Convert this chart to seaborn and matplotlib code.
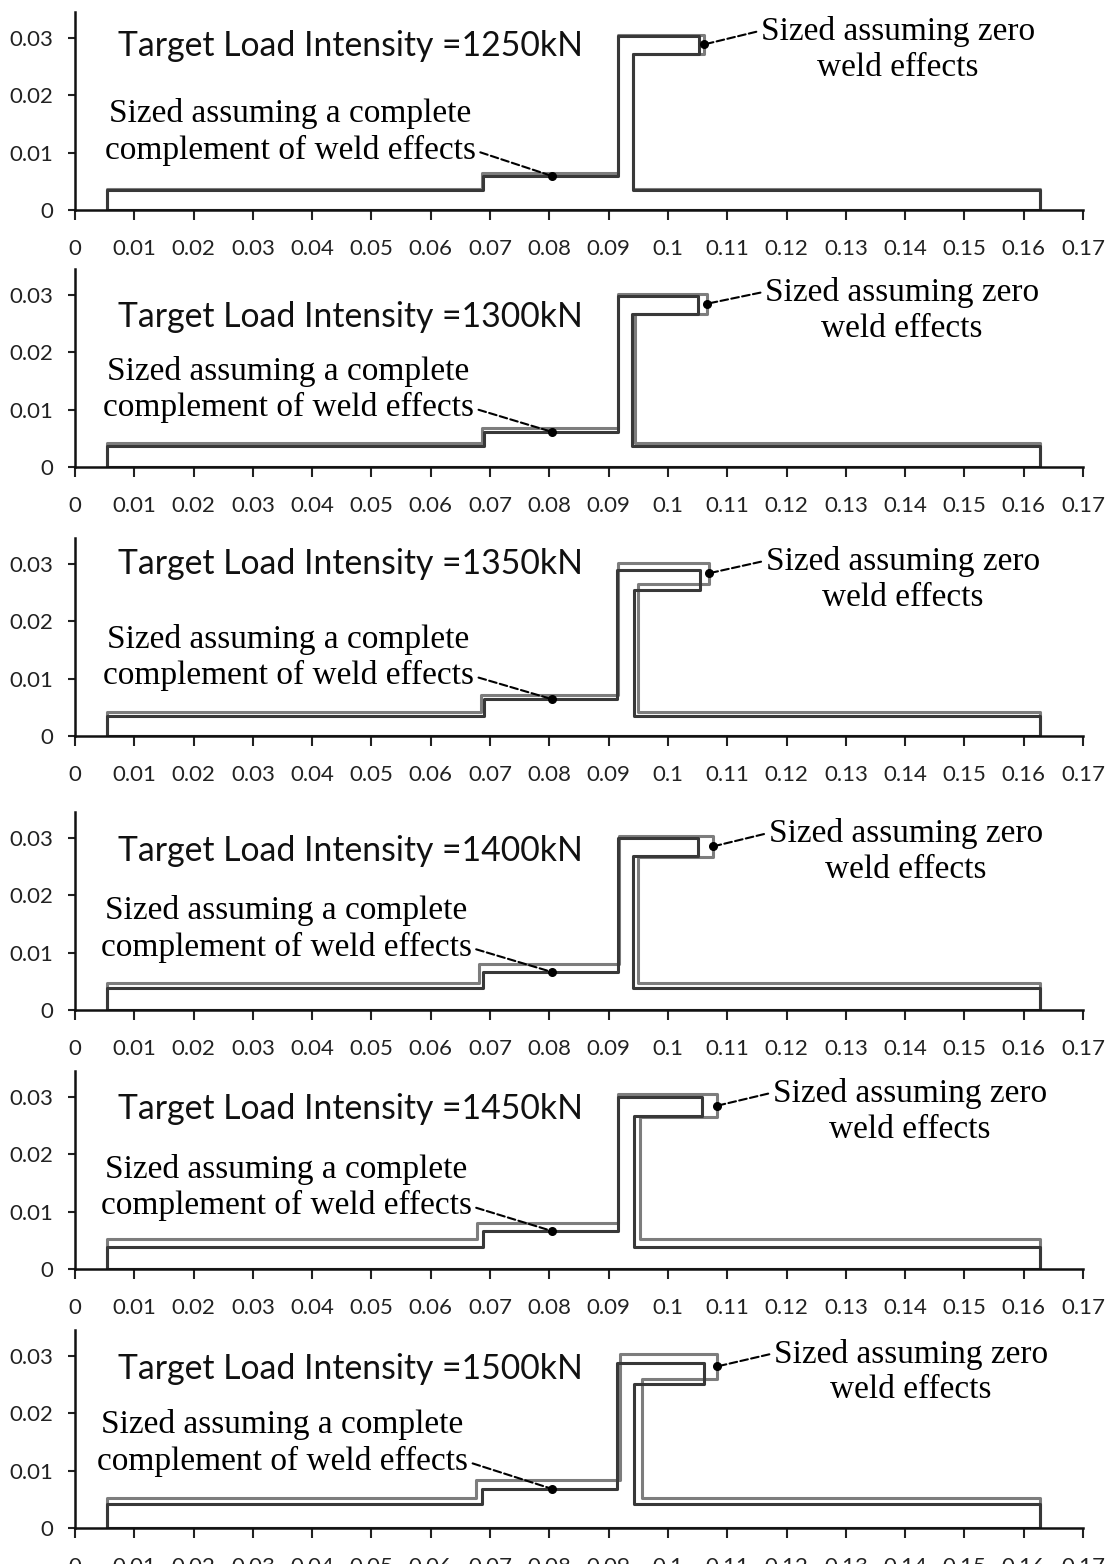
import matplotlib
matplotlib.use('Agg')
import matplotlib.pyplot as plt
from matplotlib.ticker import FuncFormatter
import numpy as np
import pandas as pd
import seaborn as sns

# panel loads (kN)
loads = [1250, 1300, 1350, 1400, 1450, 1500]

# common plate extent
x_start = 0.0054
x_end = 0.1627

# sized assuming zero weld effects (light outline)
zw_plate = [0.0037, 0.0042, 0.0042, 0.0047, 0.0052, 0.0052]
zw_step = [0.0686, 0.0686, 0.0684, 0.0681, 0.0678, 0.0676]
zw_mid = [0.0064, 0.0068, 0.0071, 0.0080, 0.0080, 0.0083]
zw_web_l = [0.0916, 0.0916, 0.0916, 0.0918, 0.0916, 0.0919]
zw_top = [0.0305, 0.0302, 0.0302, 0.0303, 0.0305, 0.0303]
zw_flange_r = [0.1061, 0.1066, 0.1069, 0.1076, 0.1083, 0.1083]
zw_flange_b = [0.0272, 0.0267, 0.0265, 0.0267, 0.0264, 0.0260]
zw_web_r = [0.0941, 0.0944, 0.0949, 0.0950, 0.0953, 0.0956]

# sized assuming a complete complement of weld effects (dark outline)
fw_plate = [0.0035, 0.0036, 0.0035, 0.0038, 0.0039, 0.0042]
fw_step = [0.0688, 0.0690, 0.0690, 0.0688, 0.0688, 0.0686]
fw_mid = [0.0059, 0.0061, 0.0064, 0.0066, 0.0066, 0.0068]
fw_web_l = [0.0916, 0.0916, 0.0914, 0.0916, 0.0916, 0.0914]
fw_top = [0.0303, 0.0298, 0.0289, 0.0300, 0.0300, 0.0288]
fw_flange_r = [0.1052, 0.1051, 0.1054, 0.1050, 0.1057, 0.1061]
fw_flange_b = [0.0272, 0.0267, 0.0255, 0.0269, 0.0267, 0.0251]
fw_web_r = [0.0941, 0.0940, 0.0943, 0.0941, 0.0943, 0.0943]

# point picked on the full weld outline
fw_dot_x = 0.0805

# text placement per panel (data units)
title_y = [0.0286, 0.0261, 0.0300, 0.0277, 0.0279, 0.0277]
right_txt_x = [0.1388, 0.1395, 0.1396, 0.1401, 0.1408, 0.1410]
right_txt_y = [0.0280, 0.0273, 0.0273, 0.0276, 0.0275, 0.0272]
left_txt_x = [0.0363, 0.0360, 0.0360, 0.0356, 0.0356, 0.0350]
left_txt_y = [0.0136, 0.0135, 0.0137, 0.0141, 0.0142, 0.0148]

x_ticks = np.arange(0, 0.1701, 0.01)
y_ticks = [0, 0.01, 0.02, 0.03]


def outline(plate, step, mid, web_l, top, flange_r, flange_b, web_r):
    xs = [x_start, x_start, step, step, web_l, web_l, flange_r, flange_r,
          web_r, web_r, x_end, x_end, x_start]
    ys = [0, plate, plate, mid, mid, top, top, flange_b, flange_b,
          plate, plate, 0, 0]
    return xs, ys


def fmt(v, pos):
    s = f'{v:.2f}'.rstrip('0').rstrip('.')
    return s


sns.set_theme(style='white')
plt.rcParams['font.family'] = ['Lato', 'DejaVu Sans']

W, H = 1113, 1564
fig = plt.figure(figsize=(W / 100, H / 100), dpi=100)

zero_px = [210, 467, 736, 1010, 1269, 1528]
ax_left, ax_right = 75, 1083
ax_h = 198
y_max = 0.0345
serif = ['Liberation Serif', 'DejaVu Serif']

for i in range(6):
    ax = fig.add_axes([ax_left / W, (H - zero_px[i]) / H,
                       (ax_right - ax_left) / W, ax_h / H])

    zx, zy = outline(zw_plate[i], zw_step[i], zw_mid[i], zw_web_l[i],
                     zw_top[i], zw_flange_r[i], zw_flange_b[i], zw_web_r[i])
    fx, fy = outline(fw_plate[i], fw_step[i], fw_mid[i], fw_web_l[i],
                     fw_top[i], fw_flange_r[i], fw_flange_b[i], fw_web_r[i])
    df = pd.DataFrame({
        'x': zx + fx,
        'y': zy + fy,
        'design': ['zero'] * len(zx) + ['full'] * len(fx),
    })
    sns.lineplot(data=df, x='x', y='y', hue='design', sort=False,
                 estimator=None, palette={'zero': '#7d7d7d', 'full': '#383838'},
                 linewidth=2.2, legend=False, ax=ax)

    ax.set_xlim(0, 0.17)
    ax.set_ylim(0, y_max)
    ax.set_xticks(x_ticks)
    ax.set_yticks(y_ticks)
    ax.xaxis.set_major_formatter(FuncFormatter(fmt))
    ax.yaxis.set_major_formatter(FuncFormatter(fmt))
    ax.set_xlabel('')
    ax.set_ylabel('')
    for side in ['top', 'right']:
        ax.spines[side].set_visible(False)
    for side in ['left', 'bottom']:
        ax.spines[side].set_color('#111111')
        ax.spines[side].set_linewidth(1.8)
    ax.tick_params(axis='x', direction='out', length=7, width=1.5,
                   pad=14, labelsize=16, colors='#222222', bottom=True)
    ax.tick_params(axis='y', direction='out', length=5, width=1.5,
                   pad=11, labelsize=16, colors='#222222', left=True)
    ax.patch.set_alpha(0)

    ax.text(0.00725, title_y[i], f'Target Load Intensity ={loads[i]}kN',
            ha='left', va='center', fontsize=24.3, color='#111111',
            family=['Lato', 'DejaVu Sans'])

    # zero weld effects annotation
    zdot = (zw_flange_r[i], (zw_top[i] + zw_flange_b[i]) / 2)
    ax.annotate('Sized assuming zero\nweld effects', xy=zdot,
                xytext=(right_txt_x[i], right_txt_y[i]),
                ha='center', va='center', multialignment='center',
                fontsize=24, family=serif, color='black', linespacing=1.22,
                arrowprops=dict(arrowstyle='-', linestyle='--', color='black',
                                lw=1.5, relpos=(0, 0.78), shrinkA=1, shrinkB=0))
    # full weld effects annotation
    fdot = (fw_dot_x, fw_mid[i])
    ax.annotate('Sized assuming a complete\ncomplement of weld effects', xy=fdot,
                xytext=(left_txt_x[i], left_txt_y[i]),
                ha='center', va='center', multialignment='center',
                fontsize=24, family=serif, color='black', linespacing=1.22,
                arrowprops=dict(arrowstyle='-', linestyle='--', color='black',
                                lw=1.5, relpos=(1, 0.22), shrinkA=1, shrinkB=0))
    ax.scatter([zdot[0], fdot[0]], [zdot[1], fdot[1]], s=30, color='black',
               zorder=5)

fig.savefig('out.png', dpi=100)
